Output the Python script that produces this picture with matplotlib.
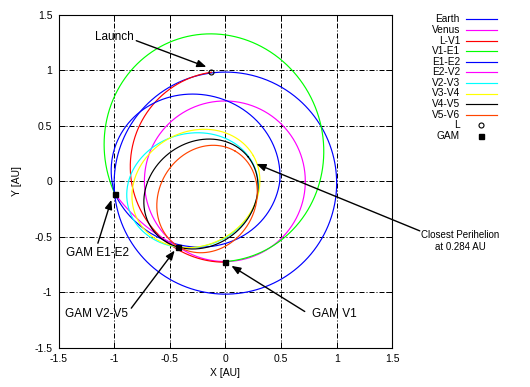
import numpy as np
import matplotlib
matplotlib.use("Agg")
import matplotlib.pyplot as plt
from matplotlib.lines import Line2D

plt.rcParams['font.family'] = ['Liberation Sans', 'DejaVu Sans']
plt.rcParams['font.size'] = 7.3

# ---------------- data ----------------
legend_labels = ["Earth", "Venus", "L-V1", "V1-E1", "E1-E2", "E2-V2",
                 "V2-V3", "V3-V4", "V4-V5", "V5-V6"]
legend_colors = ["#0000ff", "#ff00ff", "#ff0000", "#00ff00", "#0000ff", "#ff00ff",
                 "#00ffff", "#ffff00", "#000000", "#ff4500"]

# heliocentric conic arcs  r = p / (1 + e cos(theta - w)), theta from t0 to t1 [deg]
kep_label = ["Earth", "Venus", "L-V1", "V1-E1", "E1-E2", "E1-E2", "E2-V2", "V2-V3"]
kep_p     = [0.9997, 0.723, 0.840, 0.934, 0.6645, 0.661, 1.213, 0.439]
kep_e     = [0.0167, 0.0068, 0.152, 0.308, 0.404, 0.364, 0.75, 0.514]
kep_w     = [90.0, 0.0, -87.8, -71.1, -27.4, -15.0, 260.0, 15.4]
kep_t0    = [0.0, 0.0, 97.3, -90.0, 186.5, 0.0, 186.5, 234.4]
kep_t1    = [360.0, 360.0, 270.0, 186.5, 360.0, 186.5, 234.4, 594.4]

# projected (inclined) resonant loops: ellipse centre, semi-axes, tilt [deg]
loop_label = ["V3-V4", "V4-V5", "V5-V6"]
loop_cx    = [-0.265, -0.22, -0.165]
loop_cy    = [-0.065, -0.115, -0.16]
loop_a     = [0.5946, 0.54, 0.50]
loop_b     = [0.511, 0.4654, 0.4336]
loop_tilt  = [29.9, 38.0, 59.6]

launch_x = [-0.126]
launch_y = [0.982]
gam_x = [-0.994, -0.426, 0.0]
gam_y = [-0.114, -0.594, -0.730]

ann_text  = ["Launch", "Closest Perihelion\nat 0.284 AU", "GAM E1-E2", "GAM V2-V5", "GAM V1"]
ann_tx    = [-1.175, 2.11, -1.43, -1.445, 0.779]
ann_ty    = [1.30, -0.537, -0.643, -1.194, -1.194]
ann_ha    = ["left", "center", "left", "left", "left"]
ann_fs    = [8.5, 7.0, 8.5, 8.5, 8.5]
arr_x0    = [-0.801, 1.747, -1.146, -0.846, 0.713]
arr_y0    = [1.266, -0.447, -0.558, -1.143, -1.173]
arr_x1    = [-0.171, 0.279, -1.025, -0.456, 0.054]
arr_y1    = [1.030, 0.156, -0.168, -0.624, -0.762]

ticks = [-1.5, -1.0, -0.5, 0.0, 0.5, 1.0, 1.5]
tick_labels = ["-1.5", "-1", "-0.5", "0", "0.5", "1", "1.5"]

# ---------------- figure ----------------
W, H = 530, 387
fig = plt.figure(figsize=(W / 100, H / 100), dpi=100)
ax = fig.add_axes([58.5 / W, (H - 347.8) / H, 333.8 / W, 333.1 / H])
color_of = dict(zip(legend_labels, legend_colors))
lw = 0.85

for lab, p, e, w, t0, t1 in zip(kep_label, kep_p, kep_e, kep_w, kep_t0, kep_t1):
    th = np.radians(np.linspace(t0, t1, 900))
    r = p / (1.0 + e * np.cos(th - np.radians(w)))
    ax.plot(r * np.cos(th), r * np.sin(th), color=color_of[lab], lw=lw, zorder=3)

tt = np.radians(np.linspace(0, 360, 900))
for lab, cx, cy, a, b, tilt in zip(loop_label, loop_cx, loop_cy, loop_a, loop_b, loop_tilt):
    ph = np.radians(tilt)
    u, v = a * np.cos(tt), b * np.sin(tt)
    ax.plot(cx + u * np.cos(ph) - v * np.sin(ph), cy + u * np.sin(ph) + v * np.cos(ph),
            color=color_of[lab], lw=lw, zorder=3)

ax.plot(launch_x, launch_y, 'o', mfc='none', mec='k', ms=3.6, mew=0.8, zorder=5)
ax.plot(gam_x, gam_y, 's', color='k', ms=3.6, zorder=5)

ax.set_xlim(-1.5, 1.5)
ax.set_ylim(-1.5, 1.5)
ax.set_xticks(ticks)
ax.set_xticklabels(tick_labels)
ax.set_yticks(ticks)
ax.set_yticklabels(tick_labels)
ax.tick_params(direction='in', length=4, width=0.7, top=True, right=True, pad=4.5,
               labelsize=7.5)
ax.grid(True, color='k', lw=0.72, linestyle=(0, (5, 2, 1, 2)), zorder=1)
ax.set_axisbelow(True)
for s in ax.spines.values():
    s.set_linewidth(0.8)

ax.set_xlabel("X [AU]", fontsize=7.5)
ax.xaxis.label.set_va('center')
ax.xaxis.set_label_coords(0.5, (347.8 - 373) / 333.1)
ax.set_ylabel("Y [AU]", fontsize=7.5)
ax.yaxis.label.set_va('center')
ax.yaxis.set_label_coords((17.5 - 58.5) / 333.8, 0.5)

for txt, tx, ty, ha, fs, x0, y0, x1, y1 in zip(ann_text, ann_tx, ann_ty, ann_ha, ann_fs,
                                               arr_x0, arr_y0, arr_x1, arr_y1):
    ax.text(tx, ty, txt, ha=ha, va='center', clip_on=False, linespacing=1.2,
            fontsize=fs)
    ax.annotate('', xy=(x1, y1), xytext=(x0, y0), annotation_clip=False,
                arrowprops=dict(arrowstyle='-|>,head_length=0.55,head_width=0.22',
                                color='k', lw=1.0, mutation_scale=10,
                                shrinkA=0, shrinkB=0))

# legend (gnuplot style: right-aligned text, sample to the right)
rows = legend_labels + ["L", "GAM"]
for i, lab in enumerate(rows):
    yp = 1 - (19.3 + 10.6 * i) / H
    fig.text(460 / W, yp, lab, ha='right', va='center')
    if i < len(legend_labels):
        fig.add_artist(Line2D([466 / W, 497 / W], [yp, yp], transform=fig.transFigure,
                              color=legend_colors[i], lw=lw))
    elif lab == "L":
        fig.add_artist(Line2D([481 / W], [yp], transform=fig.transFigure, marker='o',
                              mfc='none', mec='k', ms=3.6, mew=0.8, ls='none'))
    else:
        fig.add_artist(Line2D([481 / W], [yp], transform=fig.transFigure, marker='s',
                              color='k', ms=3.6, ls='none'))

fig.savefig("out.png", dpi=100)
